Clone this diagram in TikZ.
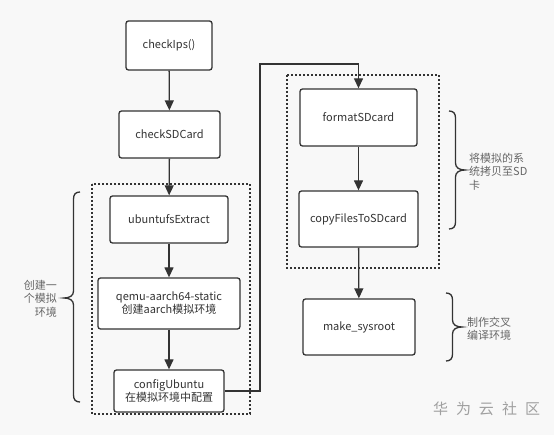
\documentclass[tikz,border=0pt]{standalone}
\usepackage{fontspec}
\setmainfont{Noto Sans CJK SC}
\usetikzlibrary{arrows.meta}
\definecolor{bg}{HTML}{F8F8F8}
\definecolor{ln}{HTML}{333333}
\definecolor{lbl}{HTML}{666666}
\definecolor{wm}{HTML}{A0A0A0}
\begin{document}
\begin{tikzpicture}[x=1pt,y=-1pt,
  proc/.style={draw=ln,line width=1.3pt,fill=white,rounded corners=2.5pt,align=center,font=\fontsize{11}{13}\selectfont,text=ln,inner sep=0pt},
  arr/.style={draw=ln,line width=1.3pt,-{Triangle[length=10pt,width=9pt]}},
  grp/.style={draw=ln,line width=1.3pt,dash pattern=on 1.6pt off 2.4pt},
  brc/.style={draw=ln,line width=1.3pt},
  side/.style={font=\fontsize{11}{13.5}\selectfont,text=lbl,inner sep=0pt}]
\fill[bg] (0,0) rectangle (554,435);
\useasboundingbox (0,0) rectangle (554,435);
% groups
\draw[grp] (92,184) rectangle (250,414);
\draw[grp] (287,75) rectangle (439,268);
% boxes
\node[proc,minimum width=86pt,minimum height=49pt] (ips) at (169,45.5) {checkIps()};
\node[proc,minimum width=101pt,minimum height=47pt] (sd) at (169.5,134.5) {checkSDCard};
\node[proc,minimum width=118pt,minimum height=47pt] (ext) at (169,219.5) {ubuntufsExtract};
\node[proc,minimum width=142pt,minimum height=51pt] (qemu) at (169,303.5) {qemu-aarch64-static\\创建aarch模拟环境};
\node[proc,minimum width=110pt,minimum height=42pt] (cfg) at (169,391) {configUbuntu\\在模拟环境中配置};
\node[proc,minimum width=117pt,minimum height=57pt] (fmt) at (358.5,117.5) {formatSDcard};
\node[proc,minimum width=119pt,minimum height=56pt] (cp) at (358.5,219) {copyFilesToSDcard};
\node[proc,minimum width=112pt,minimum height=56pt] (mk) at (359,327) {make\_sysroot};
% connectors
\draw[arr] (ips) -- (sd);
\draw[arr] (sd) -- (ext);
\draw[arr] (ext) -- (qemu);
\draw[arr] (qemu) -- (cfg);
\coordinate (turn) at (260,64);
\draw[arr] (cfg.east) -| (turn) -| (fmt.north);
\draw[arr] (fmt) -- (cp);
\draw[arr] (cp) -- (mk);
% braces
\draw[brc] (80,192) .. controls (75.5,192) and (73.5,194.5) .. (73.5,199) -- (73.5,291) .. controls (73.5,295.5) and (70,298) .. (64,298) .. controls (70,298) and (73.5,300.5) .. (73.5,305) -- (73.5,395) .. controls (73.5,399.5) and (75.5,402) .. (80,402);
\draw[brc] (449,111) .. controls (453.5,111) and (455.5,113.5) .. (455.5,118) -- (455.5,163) .. controls (455.5,167.5) and (459,170) .. (465,170) .. controls (459,170) and (455.5,172.5) .. (455.5,177) -- (455.5,222) .. controls (455.5,226.5) and (453.5,229) .. (449,229);
\draw[brc] (446,293) .. controls (450.5,293) and (452.5,295.5) .. (452.5,300) -- (452.5,320) .. controls (452.5,324.5) and (456,327) .. (462,327) .. controls (456,327) and (452.5,329.5) .. (452.5,334) -- (452.5,354) .. controls (452.5,358.5) and (450.5,361) .. (446,361);
% side labels
\node[side,align=right,anchor=east] (l1) at (57,298.5) {创建一\\个模拟\\环境};
\node[side,align=left,anchor=west] (l2) at (469,171.5) {将模拟的系\\统拷贝至SD\\卡};
\node[side,align=left,anchor=west] (l3) at (467,329) {制作交叉\\编译环境};
\node[font=\fontsize{15}{17}\selectfont,text=wm,inner sep=0pt] (wmk) at (486.5,409) {华\hspace{8pt}为\hspace{8pt}云\hspace{8pt}社\hspace{8pt}区};
\end{tikzpicture}
\end{document}
